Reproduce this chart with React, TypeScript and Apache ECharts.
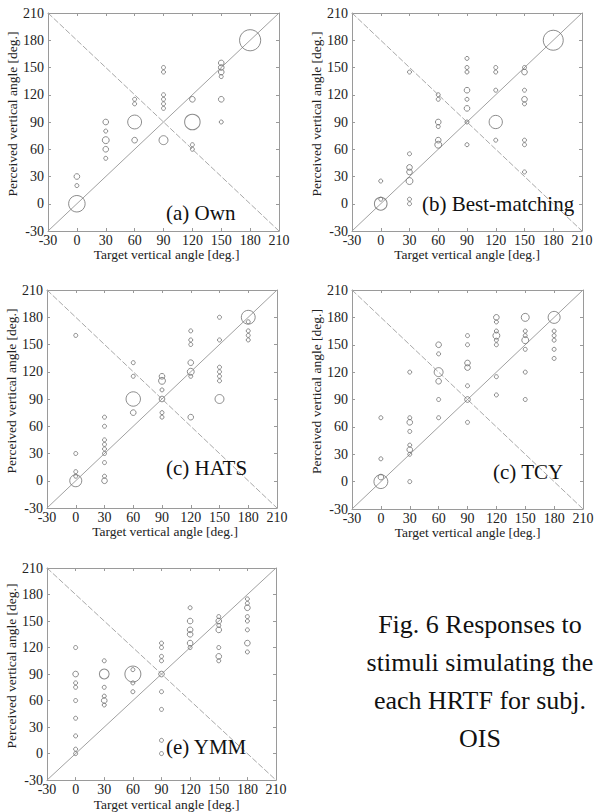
import React, { useEffect, useRef } from "react";
import * as echarts from "echarts";

// [target angle, perceived angle, number of responses]
const ownPoints: [number, number, number][] = [
  [0, 0, 17], [0, 30, 2], [0, 20, 1],
  [30, 90, 2], [30, 80, 1], [30, 70, 3], [30, 60, 2], [30, 50, 1],
  [60, 115, 1], [60, 110, 1], [60, 90, 12], [60, 70, 2],
  [90, 150, 1], [90, 145, 1], [90, 120, 1], [90, 115, 1], [90, 110, 1], [90, 105, 1], [90, 70, 5],
  [120, 115, 2], [120, 90, 15], [120, 65, 1], [120, 60, 1],
  [150, 155, 2], [150, 150, 2], [150, 145, 2], [150, 140, 1], [150, 115, 2], [150, 90, 1],
  [180, 180, 28],
];

const bestPoints: [number, number, number][] = [
  [0, 0, 10], [0, 5, 1], [0, 25, 1],
  [30, 145, 1], [30, 55, 1], [30, 40, 2], [30, 35, 2], [30, 25, 3], [30, 5, 1], [30, 0, 1],
  [60, 120, 1], [60, 115, 1], [60, 90, 2], [60, 85, 1], [60, 70, 2], [60, 65, 3],
  [90, 160, 1], [90, 150, 1], [90, 145, 1], [90, 125, 2], [90, 115, 1], [90, 105, 2], [90, 90, 1], [90, 65, 1],
  [120, 150, 1], [120, 145, 1], [120, 125, 1], [120, 90, 11], [120, 70, 1],
  [150, 150, 1], [150, 145, 2], [150, 125, 1], [150, 115, 2], [150, 110, 1], [150, 70, 1], [150, 65, 1], [150, 35, 1],
  [180, 180, 25],
];

const hatsPoints: [number, number, number][] = [
  [0, 160, 1], [0, 30, 1], [0, 10, 1], [0, 5, 1], [0, 0, 9],
  [30, 70, 1], [30, 60, 1], [30, 45, 1], [30, 40, 1], [30, 35, 1], [30, 30, 1], [30, 20, 1], [30, 5, 1], [30, 0, 2],
  [60, 130, 1], [60, 115, 1], [60, 90, 13], [60, 75, 2],
  [90, 115, 2], [90, 110, 3], [90, 100, 1], [90, 90, 2], [90, 75, 1], [90, 70, 1],
  [120, 165, 1], [120, 155, 1], [120, 150, 1], [120, 130, 2], [120, 120, 3], [120, 115, 1], [120, 70, 2],
  [150, 180, 1], [150, 155, 1], [150, 125, 1], [150, 120, 1], [150, 115, 1], [150, 110, 1], [150, 90, 5],
  [180, 180, 12], [180, 175, 1], [180, 165, 1], [180, 160, 1], [180, 155, 1],
];

const tcyPoints: [number, number, number][] = [
  [0, 70, 1], [0, 25, 1], [0, 5, 2], [0, 0, 12],
  [30, 120, 1], [30, 70, 1], [30, 65, 2], [30, 55, 1], [30, 40, 1], [30, 35, 2], [30, 30, 1], [30, 0, 1],
  [60, 150, 2], [60, 140, 1], [60, 120, 5], [60, 110, 2], [60, 90, 1], [60, 70, 1],
  [90, 160, 1], [90, 150, 1], [90, 130, 2], [90, 125, 2], [90, 105, 1], [90, 90, 2], [90, 65, 1],
  [120, 180, 2], [120, 175, 1], [120, 165, 1], [120, 160, 3], [120, 155, 1], [120, 150, 1], [120, 115, 1], [120, 95, 1],
  [150, 180, 4], [150, 165, 1], [150, 160, 1], [150, 155, 3], [150, 145, 1], [150, 120, 1], [150, 90, 1],
  [180, 180, 9], [180, 165, 1], [180, 160, 1], [180, 155, 1], [180, 145, 1], [180, 135, 1],
];

const ymmPoints: [number, number, number][] = [
  [0, 120, 1], [0, 90, 2], [0, 80, 1], [0, 75, 1], [0, 60, 1], [0, 40, 1], [0, 20, 1], [0, 5, 1], [0, 0, 1],
  [30, 105, 1], [30, 90, 6], [30, 75, 1], [30, 65, 1], [30, 60, 2], [30, 55, 1],
  [60, 95, 1], [60, 90, 16], [60, 80, 1], [60, 70, 1],
  [90, 125, 1], [90, 120, 1], [90, 110, 1], [90, 105, 1], [90, 90, 2], [90, 70, 1], [90, 50, 1], [90, 15, 1], [90, 0, 1],
  [120, 165, 1], [120, 150, 2], [120, 140, 2], [120, 135, 2], [120, 125, 2], [120, 120, 1],
  [150, 155, 1], [150, 150, 2], [150, 145, 1], [150, 140, 2], [150, 120, 1], [150, 110, 2], [150, 105, 1],
  [180, 175, 1], [180, 170, 1], [180, 165, 2], [180, 155, 1], [180, 150, 1], [180, 140, 1], [180, 125, 2], [180, 115, 1],
];

const panelLabels = ["(a) Own", "(b) Best-matching", "(c) HATS", "(c) TCY", "(e) YMM"];
const panelData = [ownPoints, bestPoints, hatsPoints, tcyPoints, ymmPoints];

const axisMin = -30;
const axisMax = 210;
const axisInterval = 30;
const xAxisName = "Target vertical angle [deg.]";
const yAxisName = "Perceived vertical angle [deg.]";
const captionLines = ["Fig. 6 Responses to", "stimuli simulating the", "each HRTF for subj.", "OIS"];

// layout (pixels)
const grids = [
  { left: 48, top: 13, width: 231, height: 218, labelX: 166, labelY: 213, nameShift: 3 },
  { left: 352, top: 13, width: 230, height: 218, labelX: 422, labelY: 204, nameShift: 0 },
  { left: 47, top: 290, width: 230, height: 218, labelX: 166, labelY: 468, nameShift: 3 },
  { left: 352, top: 290, width: 231, height: 219, labelX: 493, labelY: 472, nameShift: 0 },
  { left: 47, top: 568, width: 229, height: 218, labelX: 166, labelY: 747, nameShift: 5 },
];

const SERIF = "Liberation Serif";
const FRAME = "#9a9a9a";

export default function App() {
  const ref = useRef<HTMLDivElement>(null);
  useEffect(() => {
    if (!ref.current) return;
    const chart = echarts.init(ref.current, undefined, { renderer: "svg" });

    const xAxes: any[] = [];
    const yAxes: any[] = [];
    const series: any[] = [];
    const graphics: any[] = [];

    const baseAxis = {
      type: "value",
      min: axisMin,
      max: axisMax,
      interval: axisInterval,
      splitLine: { show: false },
      axisLine: { show: true, onZero: false, lineStyle: { color: FRAME, width: 1 } },
      axisTick: { show: true, inside: true, length: 3, lineStyle: { color: FRAME } },
    };

    grids.forEach((g, i) => {
      xAxes.push({
        ...baseAxis,
        gridIndex: i,
        position: "bottom",
        name: xAxisName,
        nameLocation: "middle",
        nameGap: 9,
        nameTextStyle: { fontFamily: SERIF, fontSize: 13.5, color: "#222", padding: [0, 0, 0, g.nameShift * 2] },
        axisLabel: { show: true, margin: 2, fontFamily: SERIF, fontSize: 14, color: "#222" },
      });
      xAxes.push({
        ...baseAxis,
        gridIndex: i,
        position: "top",
        axisLabel: { show: false },
      });
      yAxes.push({
        ...baseAxis,
        gridIndex: i,
        position: "left",
        name: yAxisName,
        nameLocation: "middle",
        nameGap: 17,
        nameRotate: 90,
        nameTextStyle: { fontFamily: SERIF, fontSize: 13.5, color: "#222", padding: [0, 0, 0, 16] },
        axisLabel: { show: true, margin: 4, fontFamily: SERIF, fontSize: 14, color: "#222" },
      });
      yAxes.push({
        ...baseAxis,
        gridIndex: i,
        position: "right",
        axisLabel: { show: false },
      });

      series.push({
        type: "line",
        xAxisIndex: i * 2,
        yAxisIndex: i * 2,
        data: [[axisMin, axisMin], [axisMax, axisMax]],
        symbol: "none",
        silent: true,
        lineStyle: { color: "#a0a0a0", width: 1 },
        z: 1,
      });
      series.push({
        type: "line",
        xAxisIndex: i * 2,
        yAxisIndex: i * 2,
        data: [[axisMin, axisMax], [axisMax, axisMin]],
        symbol: "none",
        silent: true,
        lineStyle: { color: "#a8a8a8", width: 1, type: [6, 2] },
        z: 1,
      });
      series.push({
        type: "scatter",
        xAxisIndex: i * 2,
        yAxisIndex: i * 2,
        data: panelData[i],
        symbol: "circle",
        symbolSize: (v: number[]) => 4 * Math.sqrt(v[2]),
        itemStyle: { color: "rgba(0,0,0,0)", borderColor: "#6e6e6e", borderWidth: 1 },
        silent: true,
        z: 3,
      });

      graphics.push({
        type: "text",
        x: g.labelX,
        y: g.labelY,
        style: {
          text: panelLabels[i],
          fontFamily: SERIF,
          fontSize: 21,
          fill: "#111",
          verticalAlign: "middle",
        },
        z: 10,
      });
    });

    graphics.push({
      type: "text",
      x: 480,
      y: 605,
      style: {
        text: captionLines.join("\n"),
        fontFamily: SERIF,
        fontSize: 26,
        fill: "#111",
        align: "center",
        lineHeight: 38,
      },
    });

    chart.setOption({
      animation: false,
      backgroundColor: "#ffffff",
      grid: grids.map((g) => ({ left: g.left, top: g.top, width: g.width, height: g.height, containLabel: false })),
      xAxis: xAxes,
      yAxis: yAxes,
      series,
      graphic: graphics,
    });
    return () => chart.dispose();
  }, []);

  return (
    <div
      ref={ref}
      style={{ position: "absolute", left: 0, top: 0, width: 600, height: 812, background: "#fff" }}
    />
  );
}
